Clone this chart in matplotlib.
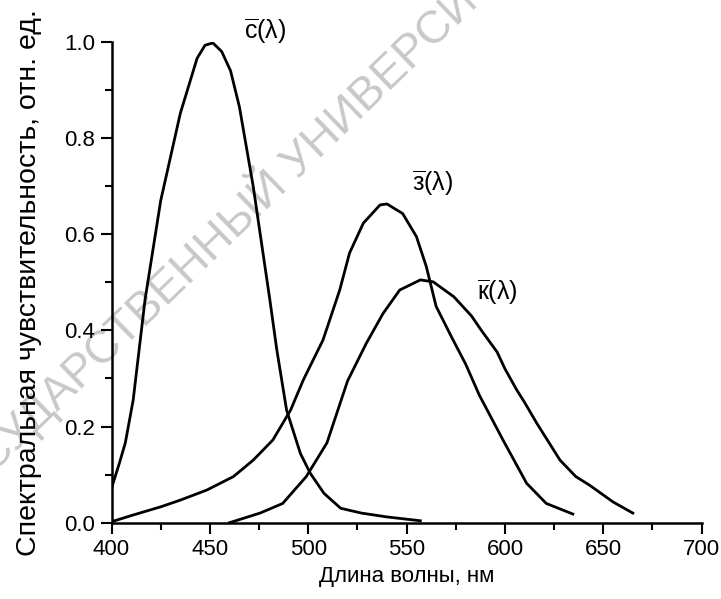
import matplotlib
matplotlib.use("Agg")
import matplotlib.pyplot as plt
from matplotlib.ticker import MultipleLocator, FormatStrFormatter

plt.rcParams['font.family'] = ['Liberation Sans', 'DejaVu Sans']
plt.rcParams['mathtext.fontset'] = 'custom'
plt.rcParams['mathtext.rm'] = 'Liberation Sans'
plt.rcParams['mathtext.it'] = 'Liberation Sans:italic'
plt.rcParams['mathtext.bf'] = 'Liberation Sans:bold'

# Data
c_wl = [400, 404, 407, 411, 417, 425, 435, 443.5, 447.5, 451.5, 456, 460.5, 465, 472,
        480.5, 484, 489, 496, 501, 508, 516.5, 527, 540, 557]
c_val = [0.072, 0.124, 0.166, 0.255, 0.463, 0.67, 0.852, 0.966, 0.993, 0.998, 0.98, 0.94,
         0.865, 0.70, 0.463, 0.36, 0.234, 0.144, 0.103, 0.061, 0.030, 0.020, 0.012, 0.004]

z_wl = [400, 411, 425, 435, 448.5, 462, 472, 482, 491, 497.5, 507.5, 516, 521, 528,
        536.5, 540, 548, 555, 560, 565, 573, 580, 587, 599, 611, 621, 634.5]
z_val = [0.002, 0.016, 0.033, 0.047, 0.068, 0.096, 0.13, 0.172, 0.234, 0.297, 0.380,
         0.484, 0.561, 0.623, 0.661, 0.663, 0.643, 0.595, 0.533, 0.45, 0.385, 0.33,
         0.265, 0.172, 0.082, 0.040, 0.018]

k_wl = [460, 475.5, 487, 499, 509.5, 520, 529.5, 538, 546.5, 557, 563.5, 574, 583, 588,
        596, 600, 606, 610, 616, 628, 636, 643, 655, 665]
k_val = [0.0, 0.02, 0.04, 0.096, 0.166, 0.295, 0.373, 0.435, 0.484, 0.505, 0.501, 0.47,
         0.43, 0.40, 0.355, 0.32, 0.276, 0.25, 0.208, 0.13, 0.096, 0.078, 0.043, 0.02]

labels = [r'$\overline{\mathrm{с}}(\mathrm{λ})$', r'$\overline{\mathrm{з}}(\mathrm{λ})$',
          r'$\overline{\mathrm{к}}(\mathrm{λ})$']
label_pos = [(467.5, 1.022), (552.5, 0.706), (586.0, 0.479)]

xlabel = 'Длина волны, нм'
ylabel = 'Спектральная чувствительность, отн. ед.'
watermark = 'ГОСУДАРСТВЕННЫЙ УНИВЕРСИТЕТ'

fig = plt.figure(figsize=(7.21, 5.99), dpi=100)
ax = fig.add_axes([0.1547, 0.1274, 0.9732 - 0.1547, 0.93 - 0.1274])
ax.set_facecolor('none')

fig.text(-0.0684, 0.1407, watermark, rotation=44, color='#c8c8c8', fontsize=33,
         ha='left', va='baseline', rotation_mode='anchor', zorder=-1)

lw = 2.0
ax.plot(c_wl, c_val, color='black', lw=lw, solid_joinstyle='round')
ax.plot(z_wl, z_val, color='black', lw=lw, solid_joinstyle='round')
ax.plot(k_wl, k_val, color='black', lw=lw, solid_joinstyle='round')

for lab, (x, y) in zip(labels, label_pos):
    ax.text(x, y, lab, fontsize=18, ha='left', va='center', clip_on=False)

ax.set_xlim(400, 700)
ax.set_ylim(0, 1.0)
ax.xaxis.set_major_locator(MultipleLocator(50))
ax.xaxis.set_minor_locator(MultipleLocator(25))
ax.yaxis.set_major_locator(MultipleLocator(0.2))
ax.yaxis.set_minor_locator(MultipleLocator(0.1))
ax.yaxis.set_major_formatter(FormatStrFormatter('%.1f'))

for s in ['top', 'right']:
    ax.spines[s].set_visible(False)
for s in ['left', 'bottom']:
    ax.spines[s].set_linewidth(1.8)

ax.tick_params(which='major', direction='out', length=8, width=1.5, labelsize=16, pad=4)
ax.tick_params(which='minor', direction='out', length=5, width=1.5)

ax.set_xlabel(xlabel, fontsize=16, labelpad=4)
ax.set_ylabel(ylabel, fontsize=20.5, labelpad=16)

fig.savefig('out.png', dpi=100)
